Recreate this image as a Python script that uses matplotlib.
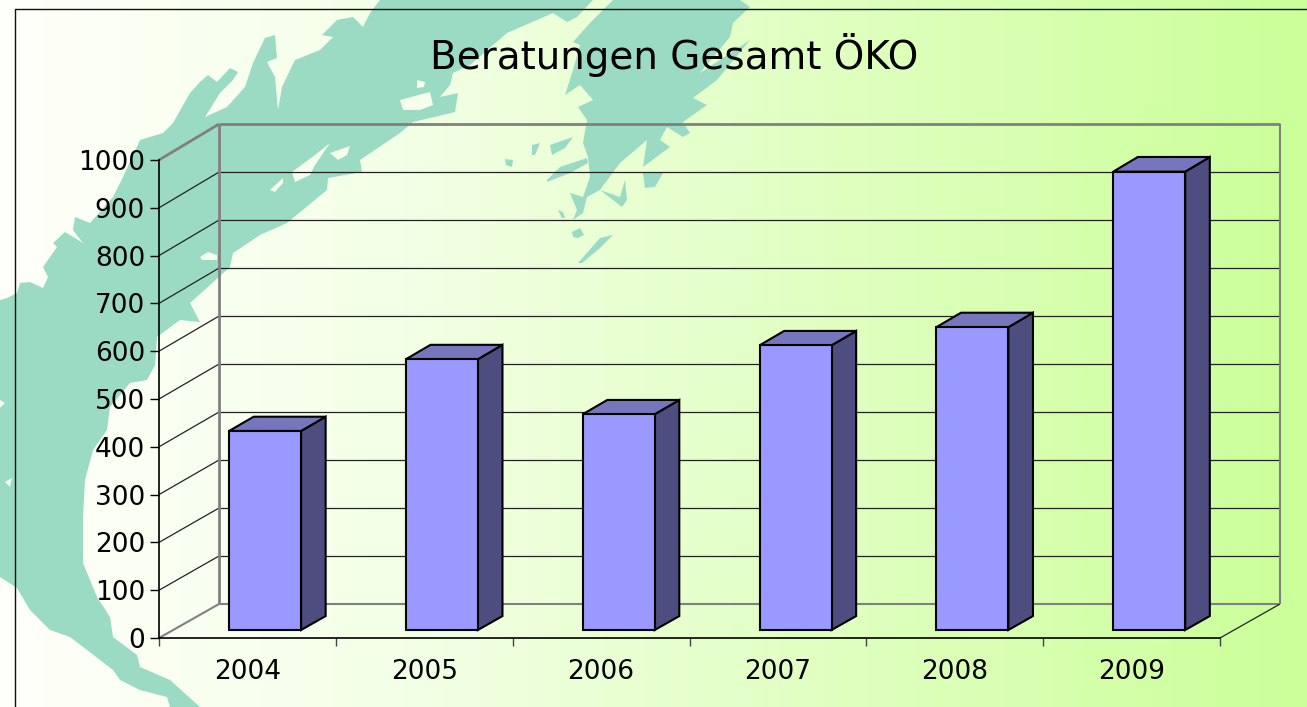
import matplotlib
matplotlib.use('Agg')
import matplotlib.pyplot as plt
import numpy as np
from matplotlib.patches import Polygon

years = ['2004', '2005', '2006', '2007', '2008', '2009']
values = [416, 566, 451, 595, 633, 958]
y_ticks = [0, 100, 200, 300, 400, 500, 600, 700, 800, 900, 1000]
title = 'Beratungen Gesamt ÖKO'

# background map, in picture pixels
land_main = [(0, 300), (7, 298), (17, 293), (20, 283), (30, 282), (43, 288), (48, 277), (43, 267), (57, 247),
             (53, 243), (65, 232), (83, 243), (73, 230), (75, 217), (90, 223), (113, 197), (123, 177), (140, 140),
             (163, 133), (173, 123), (190, 93), (200, 82), (208, 75), (217, 82), (230, 68), (238, 72), (233, 80),
             (220, 93), (205, 117), (227, 107), (245, 87), (253, 63), (265, 38), (275, 35), (277, 58), (267, 62),
             (275, 77), (278, 110), (282, 87), (295, 60), (320, 50), (333, 37), (322, 35), (337, 20), (353, 17),
             (363, 27), (370, 13), (380, 0), (593, 0), (577, 17), (567, 22), (553, 13), (507, 33), (470, 65),
             (453, 73), (450, 85), (440, 97), (458, 93), (455, 112), (413, 122), (400, 133), (360, 160), (362, 172),
             (328, 178), (327, 190), (287, 223), (260, 235), (233, 253), (230, 267), (190, 303), (200, 322),
             (180, 320), (157, 337), (155, 365), (147, 380), (130, 383), (110, 407), (107, 430), (93, 450), (85, 480),
             (83, 517), (83, 563), (97, 597), (110, 617), (113, 637), (137, 655), (140, 667), (170, 680), (200, 707),
             (170, 707), (167, 697), (140, 690), (120, 680), (113, 670), (87, 650), (70, 637), (50, 630), (30, 610),
             (17, 588), (0, 577)]
land_east = [(613, 0), (590, 23), (573, 42), (580, 45), (573, 70), (565, 95), (580, 85), (593, 100), (578, 107),
             (587, 120), (583, 143), (588, 157), (590, 177), (583, 197), (570, 193), (577, 210), (573, 220),
             (583, 213), (587, 197), (600, 190), (613, 200), (622, 207), (627, 200), (625, 180), (620, 197),
             (600, 190), (620, 163), (647, 140), (643, 167), (670, 147), (660, 140), (667, 127), (683, 137),
             (690, 133), (683, 122), (707, 105), (693, 98), (717, 80), (750, 40), (700, 73), (730, 37), (733, 23),
             (750, 7), (740, 0)]
islands = [[(550, 145), (573, 137), (565, 148), (552, 155)],
           [(532, 145), (540, 143), (535, 155), (532, 155)],
           [(505, 159), (513, 160), (512, 167), (506, 165)],
           [(547, 180), (560, 167), (587, 158), (588, 163), (570, 173), (547, 182)],
           [(643, 173), (663, 173), (655, 187), (645, 188)],
           [(572, 232), (580, 228), (584, 235), (578, 238), (573, 237)],
           [(578, 263), (600, 238), (613, 235), (600, 248), (582, 263)],
           [(558, 210), (563, 212), (565, 218), (562, 218)]]
lakes = [[(200, 257), (208, 252), (217, 255), (217, 260), (202, 260)],
         [(270, 190), (283, 178), (283, 183), (275, 192)],
         [(292, 172), (315, 155), (330, 143), (315, 165), (310, 175), (295, 182)],
         [(330, 153), (350, 146), (347, 155), (338, 160)],
         [(417, 80), (425, 82), (424, 87), (417, 88)],
         [(400, 100), (430, 92), (433, 105), (420, 110), (403, 110)],
         [(5, 482), (12, 478), (10, 487)],
         [(0, 400), (5, 403), (0, 408)]]

W, H = 1307, 707
LAND = '#9BDBC3'


def to_fig(x0, y0, x1, y1):
    return [x0 / W, 1 - y1 / H, (x1 - x0) / W, (y1 - y0) / H]


fig = plt.figure(figsize=(W / 100, H / 100), dpi=100)

# gradient, map and frame
bg = fig.add_axes([0, 0, 1, 1])
bg.set_xlim(0, W)
bg.set_ylim(H, 0)
bg.axis('off')
xs = np.linspace(0, W, 400)
grad = np.stack([np.interp(xs, [0, 400, 800, W], c) for c in
                 ([255, 243, 225, 203], [255, 255, 255, 255], [250, 230, 195, 153])], axis=-1)
bg.imshow(grad[None, :, :] / 255, extent=[0, W, H, 0], aspect='auto')
for shape in [land_main, land_east] + islands:
    bg.add_patch(Polygon(shape, closed=True, fc=LAND, ec='none'))
for shape in lakes:
    bg.add_patch(Polygon(shape, closed=True, fc='#F6FFEC', ec='none'))
bg.plot([14.5, 14.5, W], [H, 8.5, 8.5], color='#111111', lw=1)
bg.set_xlim(0, W)
bg.set_ylim(H, 0)

# chart: front plane of the 3d box
ax = fig.add_axes(to_fig(159, 160, 1220, 638))
ax.patch.set_alpha(0)
ax.set_xlim(0, len(years))
ax.set_ylim(0, 1000)

# one unit of depth moves this far in axis units
dx = 60 / (1061 / len(years))
dy = 34 / (478 / 1000)
stretch = 0.004  # back wall is a little taller than the front


def proj(x, v, d):
    return x + d * dx, v * (1 + d * stretch) + d * dy


def line(p, q, **kw):
    ax.plot([p[0], q[0]], [p[1], q[1]], clip_on=False, solid_capstyle='butt', **kw)


n = len(years)
for v in y_ticks:
    if v == 0:
        style = dict(color='#808080', lw=1.5)
    elif v == 1000:
        style = dict(color='#808080', lw=2)
    else:
        style = dict(color='#222222', lw=0.9)
    line(proj(0, v, 1), proj(n, v, 1), zorder=1, **style)
    line(proj(0, v, 0), proj(0, v, 1), zorder=1, **style)
line(proj(0, 0, 1), proj(0, 1000, 1), color='#808080', lw=2, zorder=1.5)
line(proj(n, 0, 1), proj(n, 1000, 1), color='#808080', lw=1.5, zorder=1.5)
line(proj(n, 0, 0), proj(n, 0, 1), color='#222222', lw=0.9, zorder=1)

# bars
bar_w = 0.407
d0, d1 = 0.235, 0.645
for i, v in enumerate(values):
    x0 = i + 0.52 - bar_w / 2
    x1 = x0 + bar_w
    front = [proj(x0, 0, d0), proj(x1, 0, d0), proj(x1, v, d0), proj(x0, v, d0)]
    top = [proj(x0, v, d0), proj(x1, v, d0), proj(x1, v, d1), proj(x0, v, d1)]
    side = [proj(x1, 0, d0), proj(x1, 0, d1), proj(x1, v, d1), proj(x1, v, d0)]
    for shape, col in ((side, '#4D4D80'), (top, '#7676BC'), (front, '#9999FF')):
        ax.add_patch(Polygon(shape, closed=True, fc=col, ec='black', lw=1.5, zorder=3,
                             joinstyle='miter', clip_on=False))

# axes
for s in ('top', 'right'):
    ax.spines[s].set_visible(False)
for s in ('left', 'bottom'):
    ax.spines[s].set_linewidth(1.2)
    ax.spines[s].set_color('black')
ax.set_yticks(y_ticks)
ax.set_xticks(np.arange(n + 1))
ax.set_xticklabels([])
ax.set_xticks(np.arange(n) + 0.5, minor=True)
ax.set_xticklabels(years, minor=True)
ax.tick_params(axis='x', which='minor', length=0, pad=15, labelsize=19)
ax.tick_params(axis='x', which='major', length=5.5, width=1, color='#444444')
ax.tick_params(axis='y', length=6.5, width=1, pad=3.5, labelsize=19)

fig.text(674 / W, 1 - 55 / H, title, ha='center', va='center', fontsize=28, color='black')

fig.savefig('out.png', dpi=100)
